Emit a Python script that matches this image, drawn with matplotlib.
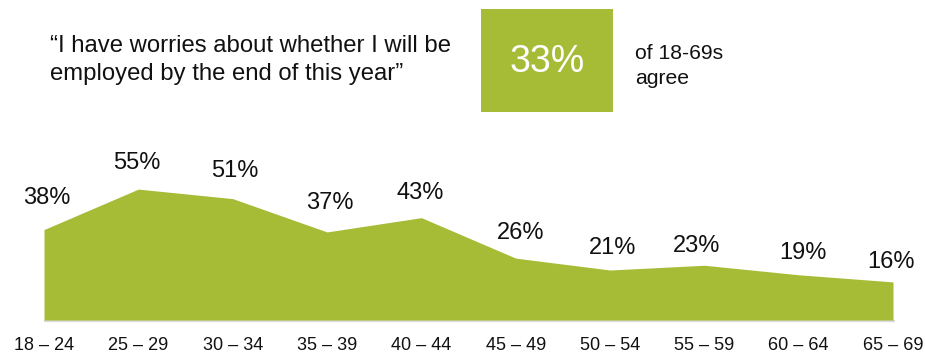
import matplotlib
matplotlib.use("Agg")
import matplotlib.pyplot as plt

plt.rcParams['font.family'] = ['Liberation Sans', 'DejaVu Sans']

# Share of respondents worried about employment, by age band
age_bands = ["18 – 24", "25 – 29", "30 – 34", "35 – 39", "40 – 44",
             "45 – 49", "50 – 54", "55 – 59", "60 – 64", "65 – 69"]
worried_pct = [38, 55, 51, 37, 43, 26, 21, 23, 19, 16]
overall_pct = 33

quote = "\u201cI have worries about whether I will be\nemployed by the end of this year\u201d"
overall_note = "of 18-69s\nagree"

GREEN = "#A6BC36"
W, H, DPI = 925, 354, 100

# label placement nudges (pixels) for the value labels
label_dx = [3, -2, 2, 3, -1, 5, 3, -8, 4, -2]
label_dy = [32, 26, 28, 29, 25, 25, 22, 19, 22, 20]

fig = plt.figure(figsize=(W / DPI, H / DPI), dpi=DPI)

# main area chart: baseline at 320px, first point at x=44px, last at 893px
px_per_unit = (893 - 44) / 9
px_per_pct = 2.38
base_px = 320
ax = fig.add_axes([0, (H - base_px) / H, 1, base_px / H])
ax.set_xlim(-44 / px_per_unit, 9 + (W - 893) / px_per_unit)
ax.set_ylim(0, base_px / px_per_pct)

xs = list(range(len(worried_pct)))
ax.plot([xs[0], xs[-1] + 0.02], [-0.35, -0.35], color="#d9d9d9", lw=1.6,
        solid_capstyle="butt", clip_on=False, zorder=1)
ax.fill_between(xs, worried_pct, 0, color=GREEN, lw=0, zorder=2)

for x, v, dx, dy in zip(xs, worried_pct, label_dx, label_dy):
    ax.annotate(f"{v}%", (x, v), xytext=(dx, dy), textcoords="offset pixels",
                ha="center", va="center", fontsize=17, color="#111111")

ax.set_xticks(xs)
ax.set_xticklabels(age_bands, fontsize=13, color="#111111")
ax.tick_params(axis="x", length=0, pad=12.5)
ax.set_yticks([])
for s in ax.spines.values():
    s.set_visible(False)
ax.patch.set_alpha(0)

# headline statement and overall figure
fig.text(50 / W, 1 - 60 / H, quote, fontsize=17.2, color="#111111",
         ha="left", va="center", linespacing=1.33)

box = plt.Rectangle((481 / W, 1 - 112 / H), (613 - 481) / W, (112 - 9) / H,
                    transform=fig.transFigure, color=GREEN, lw=0)
fig.patches.append(box)
fig.text(547 / W, 1 - 62 / H, f"{overall_pct}%", fontsize=27, color="white",
         ha="center", va="center")
fig.text(635 / W, 1 - 66 / H, overall_note, fontsize=15.2, color="#111111",
         ha="left", va="center", linespacing=1.38)

fig.savefig("out.png", dpi=DPI)
